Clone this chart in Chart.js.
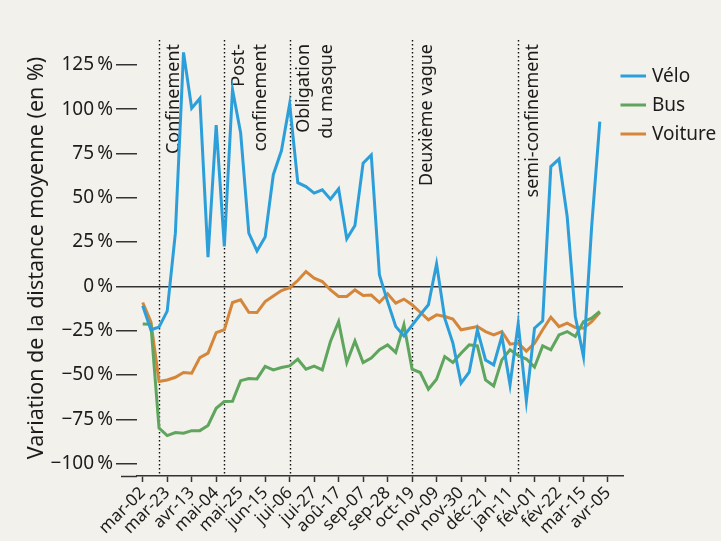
<!DOCTYPE html>
<html>
<head>
<meta charset="utf-8">
<script src="https://cdn.jsdelivr.net/npm/chart.js@4/dist/chart.umd.min.js"></script>
<style>
  html, body { margin: 0; padding: 0; background: #f2f1ec; }
  canvas { display: block; }
</style>
</head>
<body>
<canvas id="c" width="721" height="541"></canvas>
<script>
// ---- data (weekly, week 0 = mar-02 2020) ----
const weeks = Array.from({length: 57}, (_, i) => i);
const velo = [-11, -24.5, -23, -14, 30, 132, 100.5, 106, 16.5, 91,
  22.5, 111, 86.5, 30, 20, 27.8, 63, 76.6, 103, 58.5,
  56.3, 52.6, 54.5, 49.2, 55, 26.8, 34.3, 69.5, 74.2, 6.5,
  -8.6, -22.7, -28, -22, -16, -10.4, 12.7, -18, -32, -54.6,
  -48.4, -24.5, -41.5, -44.3, -28, -55.6, -21, -64.5, -23.6, -19.5,
  67.6, 71.8, 39.4, -17, -39.6, 33.7, 93];
const bus = [-21.2, -21.4, -80, -84.2, -82.5, -82.9, -81.4, -81.4, -78.5, -68.8,
  -65, -64.8, -53.2, -52, -52.2, -45.2, -47.1, -45.8, -44.9, -41.1,
  -46.7, -45, -47.1, -31.1, -19.9, -43, -30.8, -43, -40.5, -35.8,
  -33, -37.3, -21.7, -46.7, -48.6, -58, -52.4, -39.6, -43, -37.7,
  -33, -33.6, -52.8, -56.2, -41.5, -35.8, -39, -41, -45.6, -33.6,
  -35.8, -27.4, -25.5, -28.3, -19.9, -18, -14.2];
const voiture = [-9.1, -19.9, -53.7, -52.8, -51.3, -48.6, -49, -40.2, -37.7, -26.1,
  -24.5, -9.1, -7.6, -14.6, -14.8, -8.6, -5.4, -2.4, -0.7, 3.3,
  8.4, 4.6, 2.7, -2, -5.7, -5.7, -2, -5.2, -4.9, -9.1,
  -4.2, -9.5, -7.2, -10.4, -14.6, -18.9, -16.1, -17, -18.5, -24.5,
  -23.6, -22.7, -25.5, -27.4, -25.5, -32.6, -32, -36.5, -32.1, -24.5,
  -17.4, -22.7, -20.8, -23.2, -23.6, -19.9, -14.8];
const seriesNames = ["Vélo", "Bus", "Voiture"];

const xTickWeeks = [0, 3, 6, 9, 12, 15, 18, 21, 24, 27, 30, 33, 36, 39, 42, 45, 48, 51, 54, 57];
const xTickLabels = ["mar-02", "mar-23", "avr-13", "mai-04", "mai-25", "jun-15", "jui-06", "jui-27",
  "aoû-17", "sep-07", "sep-28", "oct-19", "nov-09", "nov-30", "déc-21", "jan-11", "fév-01",
  "fév-22", "mar-15", "avr-05"];
const yTickValues = [-100, -75, -50, -25, 0, 25, 50, 75, 100, 125];
const yTickLabels = ["\u2212100\u202f%", "\u221275\u202f%", "\u221250\u202f%", "\u221225\u202f%", "0\u202f%",
  "25\u202f%", "50\u202f%", "75\u202f%", "100\u202f%", "125\u202f%"];
const yTitle = "Variation de la distance moyenne (en %)";

const eventWeeks = [2, 10, 18, 33, 46];
const eventLabels = [["Confinement"], ["Post-", "confinement"], ["Obligation", "du masque"], ["Deuxième vague"], ["semi-confinement"]];

// ---- styles ----
const FONT = "'Noto Sans', 'DejaVu Sans', sans-serif";
const colors = ["#2c9fda", "#5fa55d", "#d4863b"];
const BG = "#f2f1ec";
const INK = "#1c1c1c";

const bgPlugin = {
  id: 'bg',
  beforeDraw(chart) {
    const ctx = chart.ctx;
    ctx.save();
    ctx.fillStyle = BG;
    ctx.fillRect(0, 0, chart.width, chart.height);
    ctx.restore();
  }
};

const annoPlugin = {
  id: 'anno',
  beforeDatasetsDraw(chart) {
    const ctx = chart.ctx;
    const xs = chart.scales.x;
    const a = chart.chartArea;
    ctx.save();
    // extend x-axis line to the left
    ctx.strokeStyle = '#333';
    ctx.lineWidth = 1.5;
    ctx.beginPath();
    ctx.moveTo(a.left - 16, a.bottom + 0.5);
    ctx.lineTo(a.left, a.bottom + 0.5);
    ctx.stroke();
    // dotted event lines
    ctx.strokeStyle = '#111';
    ctx.lineWidth = 1.4;
    ctx.setLineDash([1.6, 2.4]);
    eventWeeks.forEach((w) => {
      const x = Math.round(xs.getPixelForValue(w)) + 0.5;
      ctx.beginPath();
      ctx.moveTo(x, a.top);
      ctx.lineTo(x, a.bottom);
      ctx.stroke();
    });
    ctx.setLineDash([]);
    // labels
    ctx.fillStyle = INK;
    ctx.font = "18px " + FONT;
    ctx.textAlign = 'right';
    ctx.textBaseline = 'middle';
    eventWeeks.forEach((w, i) => {
      const x0 = xs.getPixelForValue(w);
      eventLabels[i].forEach((line, j) => {
        ctx.save();
        ctx.translate(x0 + 14.5 + j * 22.5, a.top + 4);
        ctx.rotate(-Math.PI / 2);
        ctx.fillText(line, 0, 0);
        ctx.restore();
      });
    });
    ctx.restore();
  },
  afterDraw(chart) {
    const ctx = chart.ctx;
    ctx.save();
    ctx.font = "19px " + FONT;
    ctx.textAlign = 'left';
    ctx.textBaseline = 'middle';
    chart.data.datasets.forEach((ds, i) => {
      const y = 76 + i * 29;
      ctx.strokeStyle = ds.borderColor;
      ctx.lineWidth = 3;
      ctx.beginPath();
      ctx.moveTo(620.5, y);
      ctx.lineTo(646, y);
      ctx.stroke();
      ctx.fillStyle = INK;
      ctx.fillText(ds.label, 652, y + 1);
    });
    ctx.restore();
  }
};

const mk = (arr) => arr.map((v, i) => ({x: weeks[i], y: v}));

new Chart(document.getElementById('c'), {
  type: 'line',
  data: {
    datasets: [
      {label: seriesNames[0], data: mk(velo), borderColor: colors[0]},
      {label: seriesNames[1], data: mk(bus), borderColor: colors[1]},
      {label: seriesNames[2], data: mk(voiture), borderColor: colors[2]}
    ]
  },
  options: {
    responsive: false,
    animation: false,
    layout: {padding: {left: 21, top: 40, right: 98, bottom: 0}},
    plugins: {legend: {display: false}, tooltip: {enabled: false}},
    elements: {point: {radius: 0}, line: {tension: 0, borderWidth: 3, fill: false, borderJoinStyle: 'miter'}},
    scales: {
      x: {
        type: 'linear',
        min: -0.7,
        max: 58.84,
        afterFit: (s) => { s.height = 65; },
        afterBuildTicks: (s) => { s.ticks = xTickWeeks.map(v => ({value: v})); },
        border: {display: true, color: '#333', width: 1.5},
        grid: {drawOnChartArea: false, drawTicks: true, tickLength: 6, tickColor: '#333', tickWidth: 1.5},
        ticks: {
          autoSkip: false, maxRotation: 45, minRotation: 45, padding: 1,
          color: INK, font: {family: FONT, size: 17},
          callback: (v) => { const k = xTickWeeks.indexOf(v); return k >= 0 ? xTickLabels[k] : ''; }
        }
      },
      y: {
        type: 'linear',
        min: -107,
        max: 139,
        afterFit: (s) => { s.width = 116; },
        afterBuildTicks: (s) => { s.ticks = yTickValues.map(v => ({value: v})); },
        border: {display: false},
        grid: {
          drawOnChartArea: true,
          color: (c) => (c.tick && c.tick.value === 0) ? '#333' : 'rgba(0,0,0,0)',
          lineWidth: 1.5,
          tickLength: 21, tickColor: '#333', tickWidth: 1.5
        },
        ticks: {
          padding: 3, color: INK, font: {family: FONT, size: 19},
          callback: (v) => { const k = yTickValues.indexOf(v); return k >= 0 ? yTickLabels[k] : ''; }
        },
        title: {display: true, text: yTitle, color: INK, font: {family: FONT, size: 21.5}, padding: {top: 3, bottom: 3}}
      }
    }
  },
  plugins: [bgPlugin, annoPlugin]
});
</script>
</body>
</html>
